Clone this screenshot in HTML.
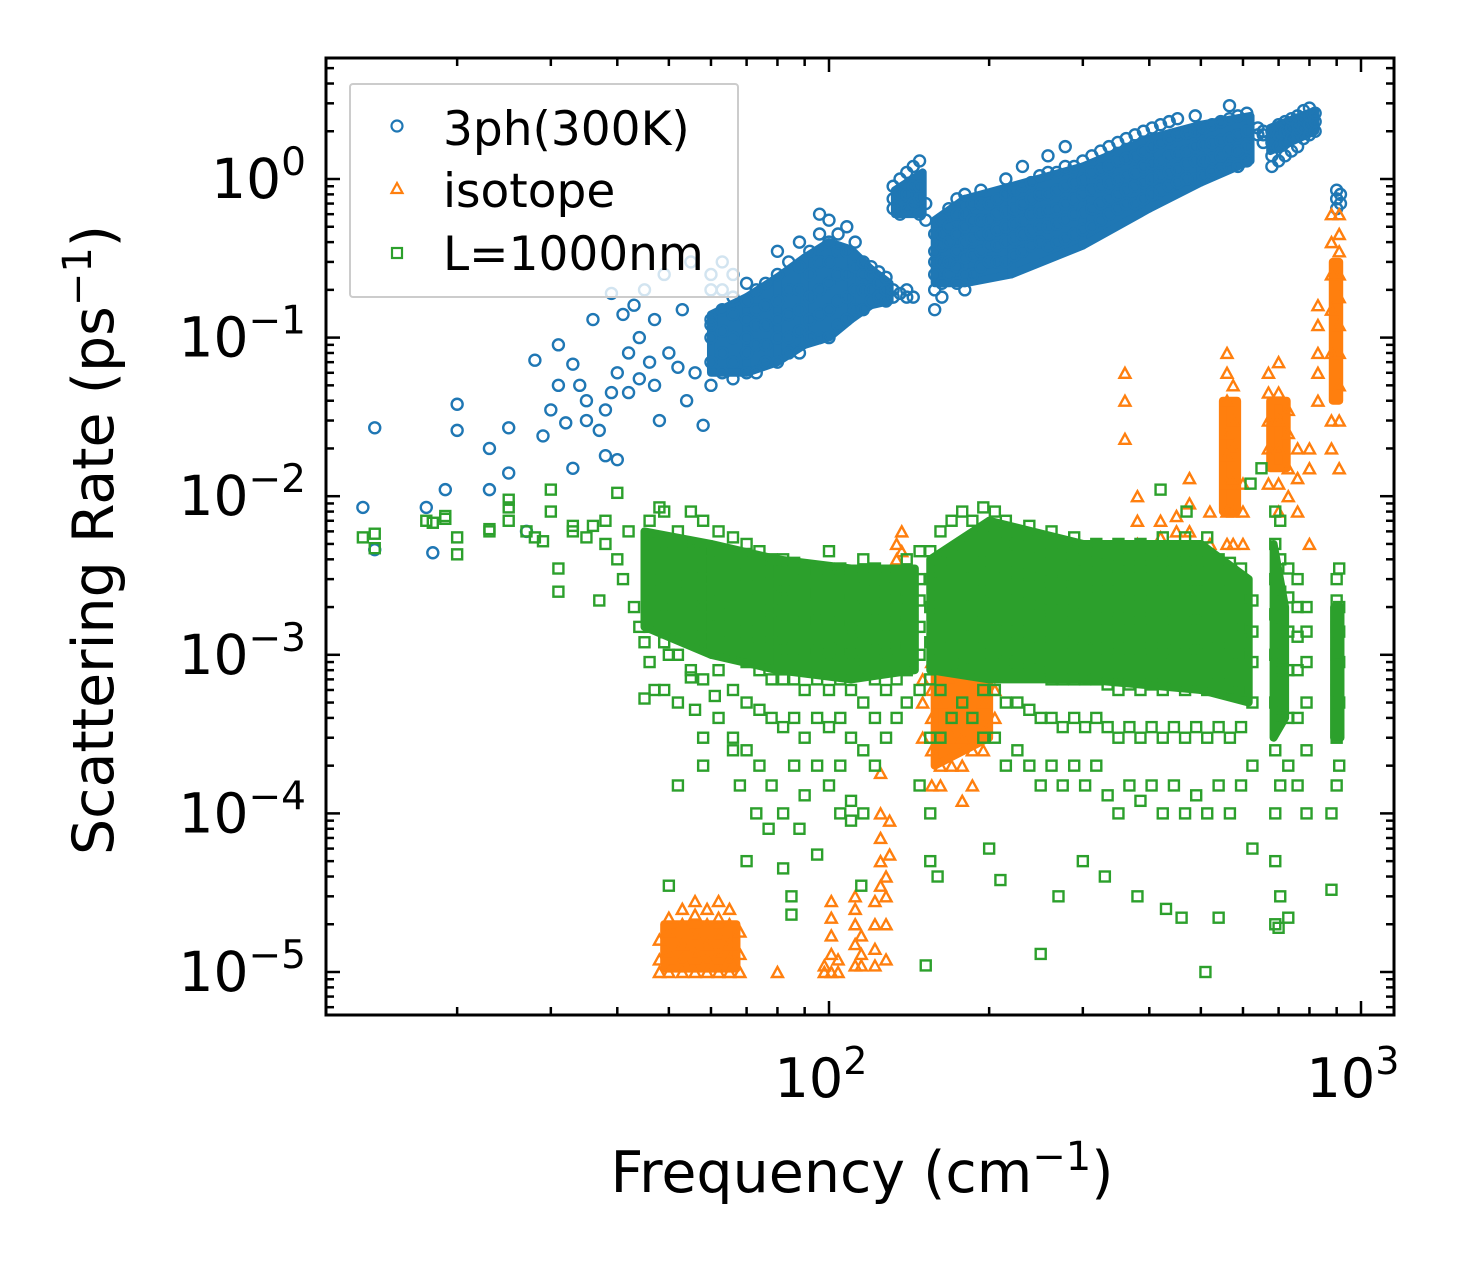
<!DOCTYPE html>
<html><head><meta charset="utf-8"><style>
body{margin:0;background:#fff;}
svg{display:block;font-family:"DejaVu Sans","Liberation Sans",sans-serif;}
</style></head><body>
<svg id="chart" width="1470" height="1265" viewBox="0 0 1470 1265" xmlns="http://www.w3.org/2000/svg">
<rect width="1470" height="1265" fill="#fff"/>
<g id="marks"></g>
<g id="axes"></g>
<g>
<rect x="350" y="84" width="388" height="213" fill="#fff" fill-opacity="0.8" stroke="#ccc" stroke-width="2" rx="3"/>
<circle cx="397" cy="126" r="5.5" fill="none" stroke="#1f77b4" stroke-width="2.2"/>
<text x="443" y="145" font-size="47">3ph(300K)</text>
<polygon points="397,183 402.5,193 391.5,193" fill="none" stroke="#ff7f0e" stroke-width="2.2"/>
<text x="443" y="207" font-size="47">isotope</text>
<rect x="392" y="248" width="10" height="10" fill="none" stroke="#2ca02c" stroke-width="2.2"/>
<text x="443" y="270" font-size="47">L=1000nm</text>
</g>
<text x="862" y="1192" font-size="57" text-anchor="middle">Frequency (cm<tspan dy="-22" font-size="40">−1</tspan><tspan dy="22">)</tspan></text>
<text transform="translate(113,540) rotate(-90)" font-size="57" text-anchor="middle">Scattering Rate (ps<tspan dy="-22" font-size="40">−1</tspan><tspan dy="22">)</tspan></text>
</svg>
<script>
// ---- data (frequency cm^-1, rate ps^-1) ----
const blueCols = [60,63,66,70,73,76,80,84,88,92,96,100,104,108,112,116,120,124,128,132,136,140,144,148,152,158,163,168,174,180,186,193,200,207,215,223,231,240,249,258,268,278,289,300,312,324,336,349,362,376,390,405,420,436,452,470,488,506,525,545,566,587,610,640,655,680,700,720,740,760,780,800,820,900,915];
const blueVals = [[.05,.07,.1,.13,.2,.25],[.06,.08,.11,.15,.2,.3],[.055,.07,.1,.14,.18,.25],[.06,.08,.1,.13,.17,.22],[.06,.09,.12,.15,.2],[.07,.09,.12,.16,.22],[.07,.1,.13,.17,.25,.35],[.08,.1,.14,.2,.3],[.08,.11,.15,.2,.28,.4],[.1,.13,.18,.25,.35],[.1,.14,.2,.3,.45,.6],[.1,.15,.22,.3,.4,.55],[.12,.17,.25,.35,.45],[.13,.18,.25,.35,.5],[.15,.2,.28,.4],[.15,.2,.25,.3],[.17,.2,.25,.28],[.18,.22,.26],[.17,.2,.24],[.18,.2,.65,.75,.9],[.19,.6,.7,.8,1.0],[.18,.2,.65,.8,1.1],[.18,.7,.9,1.2],[.6,.75,.9,1.3],[.55,.7],[.15,.2,.25,.3,.35,.45],[.18,.22,.3,.38,.45,.55],[.25,.3,.4,.5,.65],[.22,.28,.35,.45,.6,.75],[.2,.25,.32,.4,.5,.6,.8],[.25,.33,.42,.55,.7],[.28,.35,.45,.55,.7,.85],[.3,.38,.45,.55,.7],[.3,.38,.48,.6,.75],[.3,.4,.5,.62,.8,1.0],[.33,.42,.52,.65,.85],[.35,.45,.55,.7,.9,1.2],[.38,.47,.6,.75,.95],[.4,.5,.62,.8,1.05],[.38,.5,.63,.8,1.1,1.4],[.4,.52,.65,.85,1.1],[.42,.55,.7,.9,1.2,1.6],[.45,.6,.75,.95,1.2],[.48,.62,.8,1.0,1.3],[.5,.65,.85,1.1,1.4],[.55,.7,.9,1.15,1.5],[.6,.75,.95,1.2,1.6],[.65,.8,1.0,1.3,1.7],[.7,.85,1.05,1.35,1.8],[.7,.9,1.1,1.4,1.9],[.75,.95,1.2,1.5,2.0],[.8,1.0,1.25,1.6,2.1],[.85,1.05,1.3,1.7,2.2],[.9,1.1,1.4,1.8,2.3],[.95,1.15,1.45,1.9,2.4],[1.0,1.25,1.5,1.95],[1.0,1.3,1.6,2.0,2.5],[1.05,1.3,1.65,2.1],[1.1,1.35,1.7,2.2],[1.15,1.4,1.75,2.3],[1.2,1.5,1.8,2.4,2.9],[1.2,1.5,1.9,2.5],[1.3,1.6,2.0,2.6],[1.9,2.1],[1.7,1.9,2.0],[1.2,1.4,1.7,2.0],[1.3,1.6,1.9,2.2],[1.4,1.7,2.0,2.3],[1.5,1.8,2.1,2.4],[1.6,1.9,2.2,2.5],[1.8,2.1,2.4,2.7],[1.9,2.2,2.5,2.8],[2.0,2.3,2.6],[.65,.75,.85],[.7,.8]];
const blueSparseF = [13.3,14,14,17.5,18,19,20,20,23,23,25,25,27,28,29,30,31,31,32,33,33,34,35,35,36,37,38,38,39,39,40,40,41,42,42,43,44,44,45,46,47,47,48,49,50,52,53,54,55,56,58,60];
const blueSparseR = [.0085,.027,.0046,.0085,.0044,.011,.038,.026,.011,.02,.027,.014,.006,.072,.024,.035,.05,.09,.029,.015,.068,.05,.04,.03,.13,.026,.018,.035,.19,.045,.06,.017,.14,.08,.045,.16,.1,.055,.2,.07,.05,.13,.03,.25,.08,.065,.15,.04,.3,.06,.028,.12];
// dense-core envelopes (freq, low, high); 0 = gap
const blueBandF  = [60,70,80,90,100,110,120,130,131,133,150,151,158,180,220,300,400,500,620,630,675,820];
const blueBandLo = [.06,.06,.07,.09,.1,.13,.16,.17,0,.6,.6,0,.22,.22,.25,.38,.65,.95,1.3,0,1.5,2.0];
const blueBandHi = [.14,.18,.24,.32,.4,.36,.27,.22,0,.85,1.1,0,.55,.75,.9,1.2,1.8,2.2,2.5,0,2.1,2.7];

const orangeCols = [48,50,53,56,59,62,65,68,80,98,101,104,112,115,122,125,128,130,134,137,150,156,162,170,178,186,195,205,360,380,420,450,476,520,560,575,600,670,700,730,760,800,830,880,910];
const orangeVals = [[1e-5,1.2e-5,1.6e-5],[1e-5,1.3e-5,1.8e-5,2.2e-5],[1e-5,1.2e-5,1.5e-5,2e-5,2.5e-5],[1e-5,1.3e-5,1.7e-5,2.3e-5,2.8e-5],[1e-5,1.2e-5,1.5e-5,2e-5,2.5e-5],[1e-5,1.3e-5,1.7e-5,2.2e-5,2.8e-5],[1e-5,1.2e-5,1.5e-5,2e-5,2.5e-5],[1e-5,1.3e-5,1.8e-5],[1e-5],[1e-5,1.1e-5],[1e-5,1.3e-5,1.7e-5,2.2e-5,2.8e-5],[1e-5,1.2e-5],[1.1e-5,1.5e-5,2e-5,2.5e-5,3e-5],[1.1e-5,1.3e-5,1.7e-5],[1.1e-5,1.4e-5,2e-5,2.8e-5],[3.5e-5,5e-5,7e-5,1e-4,1.8e-4],[1.2e-5,2e-5,3e-5,4e-5],[9e-5,5.5e-5],[3e-3,4e-3,5e-3],[3.5e-3,4.5e-3,6e-3],[3e-4,5e-4,7e-4],[1.5e-4,2.5e-4,4e-4,6e-4,9e-4],[1.5e-4,2e-4,3e-4,5e-4,8e-4,1.2e-3],[2e-4,3e-4,4.5e-4,7e-4,1e-3,1.5e-3],[1.2e-4,2e-4,3e-4,5e-4,8e-4,1.2e-3,1.5e-3],[1.5e-4,2.5e-4,4e-4,6e-4,9e-4,1.3e-3],[2.5e-4,3.5e-4,5e-4,7e-4,1e-3],[4e-4,6e-4,8e-4],[.04,.06,.023],[5e-3,7e-3,1e-2],[2e-3,3e-3,4e-3,5.5e-3,7e-3],[3e-3,4.5e-3,6e-3,7.5e-3],[4e-3,6e-3,9e-3,1.3e-2],[3e-3,5e-3,8e-3],[5e-3,8e-3,1.2e-2,1.8e-2,2.5e-2,4e-2,6e-2,8e-2],[5e-3,8e-3,1.3e-2,2e-2,3e-2,5e-2],[3e-3,5e-3,8e-3,1.2e-2],[1.2e-2,2e-2,3e-2,4.5e-2,6e-2],[8e-3,1.2e-2,2e-2,3e-2,4.5e-2,7e-2],[1e-2,1.5e-2,2.5e-2,3.5e-2],[8e-3,1.3e-2,2e-2],[5e-3,1.5e-2,2e-2],[4e-2,6e-2,8e-2,1.2e-1,1.6e-1],[2e-2,3e-2,8e-2,1.5e-1,2.5e-1,4e-1,6e-1],[1.5e-2,3e-2,5e-2,8e-2,1.2e-1,1.8e-1,2.5e-1,3.5e-1,4.5e-1,6e-1]];
const orangeBandF  = [49,67,68,158,200,201,550,585,586,675,725,726,885,910];
const orangeBandLo = [1.05e-5,1.05e-5,0,2e-4,3e-4,0,8e-3,8e-3,0,1.5e-2,1.5e-2,0,4e-2,4e-2];
const orangeBandHi = [2e-5,2e-5,0,8e-4,1.2e-3,0,4e-2,4e-2,0,4e-2,4e-2,0,3e-1,3e-1];

const greenCols = [46,49,52,55,58,62,66,70,74,78,82,86,90,95,100,105,110,116,122,128,134,140,148,155,162,170,178,186,195,205,215,226,238,250,262,275,289,303,318,334,350,367,385,404,424,445,467,490,514,540,567,595,625,690,705,730,760,790,900,910];
const greenVals = [[9e-4,1.5e-3,2.5e-3,3.5e-3,5e-3,7e-3],[6e-4,1.2e-3,2e-3,3e-3,4.5e-3,8e-3],[5e-4,1e-3,1.8e-3,2.8e-3,4e-3,6e-3],[8e-4,1.4e-3,2.2e-3,3.2e-3,5e-3,8e-3],[3e-4,7e-4,1.3e-3,2e-3,3e-3,4.5e-3,7e-3],[4e-4,8e-4,1.2e-3,1.8e-3,2.6e-3,3.8e-3,6e-3],[3e-4,6e-4,1e-3,1.6e-3,2.4e-3,3.5e-3,5.5e-3],[2.5e-4,5e-4,9e-4,1.4e-3,2.2e-3,3.2e-3,5e-3],[2e-4,4.5e-4,8e-4,1.3e-3,2e-3,3e-3,4.5e-3],[1.5e-4,4e-4,7e-4,1.2e-3,1.9e-3,2.8e-3,4e-3],[1e-4,3.5e-4,7e-4,1.1e-3,1.8e-3,2.6e-3,4e-3],[2e-4,4e-4,7e-4,1.1e-3,1.7e-3,2.5e-3,3.8e-3],[1.3e-4,3e-4,6e-4,1e-3,1.6e-3,2.4e-3,3.5e-3],[2e-4,4e-4,7e-4,1.1e-3,1.7e-3,2.5e-3,3.5e-3],[1.5e-4,3.5e-4,6e-4,1e-3,1.6e-3,2.3e-3,3.3e-3,4.5e-3],[2e-4,4e-4,7e-4,1.1e-3,1.6e-3,2.4e-3,3.5e-3],[1.2e-4,3e-4,6e-4,1e-3,1.5e-3,2.2e-3,3.2e-3],[1e-4,2.5e-4,5e-4,9e-4,1.4e-3,2e-3,3e-3,4e-3],[2e-4,4e-4,7e-4,1.1e-3,1.7e-3,2.5e-3,3.5e-3],[3e-4,6e-4,1e-3,1.5e-3,2.2e-3,3e-3],[4e-4,7e-4,1.1e-3,1.6e-3,2.3e-3,3.2e-3],[5e-4,8e-4,1.2e-3,1.8e-3,2.6e-3,4e-3],[1.5e-4,6e-4,1e-3,1.5e-3,2.2e-3,3e-3,4.5e-3],[5e-5,1e-4,3e-4,7e-4,1.2e-3,2e-3,3e-3,4.5e-3],[3e-4,6e-4,1.1e-3,1.8e-3,2.8e-3,4e-3,6e-3],[4e-4,8e-4,1.3e-3,2e-3,3e-3,4.5e-3,7e-3],[5e-4,9e-4,1.4e-3,2.2e-3,3.3e-3,5e-3,8e-3],[4e-4,8e-4,1.3e-3,2e-3,3e-3,4.5e-3,7e-3],[3e-4,6e-4,1e-3,1.6e-3,2.5e-3,3.8e-3,5.5e-3,8.5e-3],[3e-4,6e-4,1e-3,1.5e-3,2.4e-3,3.6e-3,5.5e-3,8e-3],[2e-4,5e-4,9e-4,1.4e-3,2.2e-3,3.4e-3,5e-3,7e-3],[2.5e-4,5e-4,9e-4,1.4e-3,2.2e-3,3.3e-3,5e-3],[2e-4,4.5e-4,8e-4,1.3e-3,2.1e-3,3.2e-3,4.8e-3,6.5e-3],[1.5e-4,4e-4,8e-4,1.3e-3,2e-3,3e-3,4.5e-3],[2e-4,4e-4,7e-4,1.2e-3,1.9e-3,2.9e-3,4.3e-3,6e-3],[1.5e-4,3.5e-4,7e-4,1.2e-3,1.9e-3,2.8e-3,4.2e-3],[2e-4,4e-4,7e-4,1.1e-3,1.8e-3,2.7e-3,4e-3,5.5e-3],[1.5e-4,3.5e-4,7e-4,1.1e-3,1.8e-3,2.7e-3,4e-3],[2e-4,4e-4,7e-4,1.1e-3,1.7e-3,2.6e-3,3.8e-3,5e-3],[1.3e-4,3.5e-4,6.5e-4,1.1e-3,1.7e-3,2.5e-3,3.7e-3],[1e-4,3e-4,6e-4,1e-3,1.6e-3,2.5e-3,3.6e-3,5e-3],[1.5e-4,3.5e-4,6.5e-4,1.1e-3,1.7e-3,2.6e-3,4e-3],[1.2e-4,3e-4,6e-4,1e-3,1.6e-3,2.4e-3,3.6e-3,5e-3],[1.5e-4,3.5e-4,6.5e-4,1.1e-3,1.7e-3,2.6e-3,4e-3],[1e-4,3e-4,6e-4,1e-3,1.6e-3,2.5e-3,3.8e-3,5.5e-3],[1.5e-4,3.5e-4,6.5e-4,1.1e-3,1.7e-3,2.6e-3,4e-3],[1e-4,3e-4,6e-4,1e-3,1.6e-3,2.5e-3,3.8e-3,5.5e-3],[1.3e-4,3.5e-4,6.5e-4,1.1e-3,1.7e-3,2.6e-3,4e-3],[1e-4,3e-4,6e-4,1e-3,1.6e-3,2.5e-3,3.8e-3,5.5e-3],[1.5e-4,3.5e-4,6.5e-4,1.1e-3,1.7e-3,2.6e-3,4e-3],[1e-4,3e-4,6e-4,1e-3,1.6e-3,2.5e-3,3.8e-3],[1.5e-4,3.5e-4,6e-4,1e-3,1.5e-3,2.3e-3,3.5e-3],[6e-5,2e-4,5e-4,9e-4,1.4e-3,2.2e-3],[2e-5,5e-5,1e-4,2.5e-4,5e-4,1e-3,1.8e-3,3e-3,5e-3,8e-3],[3e-5,1.5e-4,4e-4,8e-4,1.5e-3,2.5e-3,4e-3,7e-3],[2e-4,4e-4,8e-4,1.4e-3,2.3e-3,3.5e-3],[1.5e-4,4e-4,8e-4,1.3e-3,2e-3,3e-3],[1e-4,2.5e-4,5e-4,9e-4,1.4e-3,2e-3],[1.5e-4,3e-4,6e-4,1e-3,1.5e-3,2.2e-3,3e-3],[2e-4,5e-4,9e-4,1.4e-3,2e-3,3.5e-3]];
const greenSparseF = [13.3,14,14,17.5,18,19,19,20,20,23,23,25,25,25,27,28,29,30,30,31,31,33,33,35,36,37,38,38,40,40,41,42,43,44,45,45,47,48,50,50,52,55,56,58,61,66,68,70,73,77,82,85,85,88,95,105,110,115,152,160,200,210,250,270,300,330,380,430,460,510,540,700,730,880,880,650,620,470,420];
const greenSparseR = [5.5e-3,5.8e-3,4.7e-3,7e-3,6.8e-3,7.5e-3,7.2e-3,4.3e-3,5.5e-3,6e-3,6.2e-3,9.5e-3,8.5e-3,7e-3,6e-3,5.5e-3,5.2e-3,1.1e-2,8e-3,3.5e-3,2.5e-3,6.5e-3,6e-3,5.5e-3,6.5e-3,2.2e-3,7e-3,5e-3,1.05e-2,4e-3,3e-3,6e-3,2e-3,1.5e-3,1.2e-3,5.3e-4,6e-4,8.5e-3,1e-3,3.5e-5,1.5e-4,7.2e-4,4.5e-4,2e-4,5.5e-4,2.5e-4,1.5e-4,5e-5,1e-4,8e-5,4.5e-5,3e-5,2.3e-5,8e-5,5.5e-5,1e-4,9e-5,3.5e-5,1.1e-5,4e-5,6e-5,3.8e-5,1.3e-5,3e-5,5e-5,4e-5,3e-5,2.5e-5,2.2e-5,1e-5,2.2e-5,1.9e-5,2.2e-5,3.3e-5,1e-4,1.5e-2,1.2e-2,8e-3,1.1e-2];
const greenBandF  = [45,60,80,110,145,150,155,200,300,500,615,620,685,720,725,890,915];
const greenBandLo = [1.5e-3,1e-3,8e-4,7e-4,8e-4,0,8e-4,7e-4,7e-4,6e-4,5e-4,0,3e-4,4e-4,0,3e-4,3e-4];
const greenBandHi = [6e-3,5e-3,4e-3,3.5e-3,3.5e-3,0,4e-3,7e-3,5e-3,5e-3,3e-3,0,5e-3,2e-3,0,2e-3,2e-3];

const xTickVals = [100, 1000];
const xTickExp = ["2","3"];
const yTickVals = [1e-5,1e-4,1e-3,1e-2,1e-1,1];
const yTickExp = ["−5","−4","−3","−2","−1","0"];

// ---- axes ----
const L=326,R=1394,T=58,B=1015;
const X = f => 829 + 532*(Math.log10(f)-2);
const Y = r => 179 - 158.6*Math.log10(r);
const NS="http://www.w3.org/2000/svg";
const marks=document.getElementById('marks');
const axes=document.getElementById('axes');
function mk(tag,attrs,parent){const e=document.createElementNS(NS,tag);for(const k in attrs)e.setAttribute(k,attrs[k]);parent.appendChild(e);return e;}

function band(F,Lo,Hi,color,g){
  for(let i=0;i<F.length-1;i++){
    if(!Lo[i]||!Lo[i+1])continue;
    const e=mk('polygon',{points:`${X(F[i])},${Y(Hi[i])} ${X(F[i+1])},${Y(Hi[i+1])} ${X(F[i+1])},${Y(Lo[i+1])} ${X(F[i])},${Y(Lo[i])}`,fill:color,stroke:color,'stroke-width':8,'stroke-linejoin':'round'},g);
    
    
  }
}

const gBlue=mk('g',{},marks);


const gOr=mk('g',{},marks);


const gGr=mk('g',{},marks);



function circ(f,r){const e=mk('circle',{cx:X(f),cy:Y(r),r:5.5,fill:'none',stroke:'#1f77b4','stroke-width':2.4},gBlue);

}
function tri(f,r){const x=X(f),y=Y(r);const e=mk('polygon',{points:`${x},${y-5} ${x+5.5},${y+5} ${x-5.5},${y+5}`,fill:'none',stroke:'#ff7f0e','stroke-width':2.4},gOr);

}
function sq(f,r){const e=mk('rect',{x:X(f)-5,y:Y(r)-5,width:10,height:10,fill:'none',stroke:'#2ca02c','stroke-width':2.4},gGr);

}

band(blueBandF,blueBandLo,blueBandHi,'#1f77b4',gBlue);
blueCols.forEach((f,i)=>blueVals[i].forEach(r=>circ(f,r)));
blueSparseF.forEach((f,i)=>circ(f,blueSparseR[i]));
band(orangeBandF,orangeBandLo,orangeBandHi,'#ff7f0e',gOr);
orangeCols.forEach((f,i)=>orangeVals[i].forEach(r=>tri(f,r)));
band(greenBandF,greenBandLo,greenBandHi,'#2ca02c',gGr);
greenCols.forEach((f,i)=>greenVals[i].forEach(r=>sq(f,r)));
greenSparseF.forEach((f,i)=>sq(f,greenSparseR[i]));

// frame
const fr=mk('rect',{x:L,y:T,width:R-L,height:B-T,fill:'none',stroke:'#000','stroke-width':3},axes);


function line(x1,y1,x2,y2,w){mk('line',{x1,y1,x2,y2,stroke:'#000','stroke-width':w},axes);}
for(let d=1;d<=3;d++){for(let m=1;m<=9;m++){const f=m*Math.pow(10,d);const x=X(f);if(x<=L+1||x>=R-1)continue;const len=m===1?14:8;line(x,B,x,B-len,2.5);line(x,T,x,T+len,2.5);}}
xTickVals.forEach((v,i)=>{const t=mk('text',{x:X(v)-8,y:1097,'font-size':54,'text-anchor':'middle'},axes);


t.innerHTML=`10<tspan dy="-23" font-size="38">${xTickExp[i]}</tspan>`;});
for(let d=-6;d<=0;d++){for(let m=1;m<=9;m++){const r=m*Math.pow(10,d);const y=Y(r);if(y<=T+1||y>=B-1)continue;const len=m===1?14:8;line(L,y,L+len,y,2.5);line(R,y,R-len,y,2.5);}}
yTickVals.forEach((v,i)=>{const t=mk('text',{x:L-20,y:Y(v)+19,'font-size':55,'text-anchor':'end'},axes);


t.innerHTML=`10<tspan dy="-23" font-size="39">${yTickExp[i]}</tspan>`;});
</script>
</body></html>
